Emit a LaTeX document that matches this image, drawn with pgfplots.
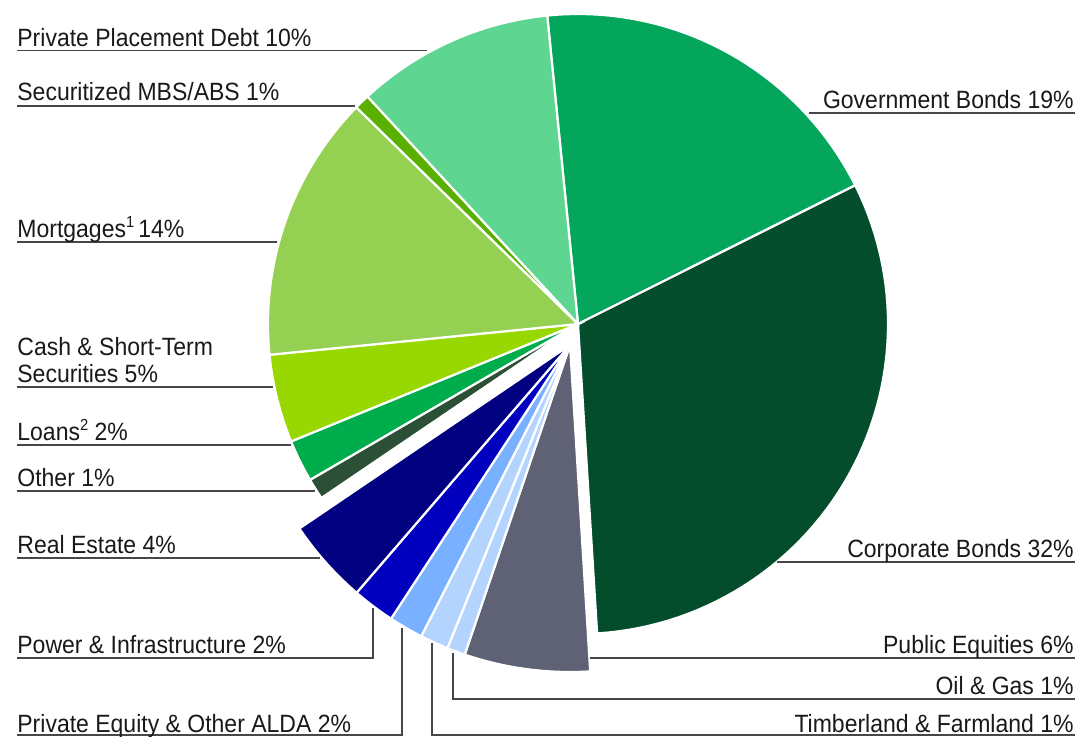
\documentclass[border=0pt]{standalone}
\usepackage{fontspec}
\setmainfont[FakeStretch=0.92]{Liberation Sans}
\usepackage{pgfplots}
\usepackage{pgfplotstable}
\pgfplotsset{compat=1.18}

% slice colours, in drawing order (clockwise from the top)
\definecolor{c0}{HTML}{03A65A}
\definecolor{c1}{HTML}{034D2C}
\definecolor{c2}{HTML}{5F6275}
\definecolor{c3}{HTML}{B3D4FF}
\definecolor{c4}{HTML}{B3D4FF}
\definecolor{c5}{HTML}{79B0FF}
\definecolor{c6}{HTML}{0000BE}
\definecolor{c7}{HTML}{000080}
\definecolor{c8}{HTML}{2B5036}
\definecolor{c9}{HTML}{00AD4D}
\definecolor{c10}{HTML}{99D700}
\definecolor{c11}{HTML}{94D152}
\definecolor{c12}{HTML}{59B000}
\definecolor{c13}{HTML}{5ED691}

% share of each slice (percent), explode = pulled-out group
\pgfplotstableread{
label value explode
GovernmentBonds 19.2 0
CorporateBonds 31.4 0
PublicEquities 6.2 1
OilGas 0.9 1
Timberland 1.4 1
PrivateEquity 1.7 1
Power 2.1 1
RealEstate 4.2 1
Other 1.1 0
Loans 2.2 0
Cash 4.6 0
Mortgages 13.9 0
Securitized 0.8 0
PrivatePlacement 10.3 0
}\piedata

\newcommand{\fnmark}[1]{\raisebox{0.38em}{\fontsize{8pt}{8pt}\selectfont #1}}

\tikzset{
  lab/.style={font=\fontsize{12.5pt}{14pt}\selectfont, inner sep=0pt, text=black!90},
  lead/.style={draw=black!72, line width=0.75pt},
}

\begin{document}
\begin{tikzpicture}
% cumulative angles, centre and radius of every slice
\def\cum{95.7}
\pgfplotsforeachungrouped \i in {0,...,13}{%
  \pgfplotstablegetelem{\i}{value}\of\piedata
  \pgfmathsetmacro\sweep{\pgfplotsretval*3.6}%
  \pgfmathsetmacro\endang{\cum-\sweep}%
  \expandafter\xdef\csname sa\i\endcsname{\cum}%
  \expandafter\xdef\csname ea\i\endcsname{\endang}%
  \pgfplotstablegetelem{\i}{explode}\of\piedata
  \ifnum\pgfplotsretval=1
    \expandafter\xdef\csname cx\i\endcsname{570}%
    \expandafter\xdef\csname cy\i\endcsname{391}%
    \expandafter\xdef\csname r\i\endcsname{327}%
  \else
    \expandafter\xdef\csname cx\i\endcsname{578}%
    \expandafter\xdef\csname cy\i\endcsname{412}%
    \expandafter\xdef\csname r\i\endcsname{310}%
  \fi
  \xdef\cum{\endang}%
}
\begin{axis}[
  width=539.5pt, height=368pt, scale only axis,
  xmin=0, xmax=1079, ymin=0, ymax=736,
  hide axis, clip=false,
]
\pgfplotsinvokeforeach{0,...,13}{%
  \edef\tmp{\noexpand\fill[fill=c#1, draw=white, line width=1.1pt]
    (\csname cx#1\endcsname,\csname cy#1\endcsname) --
    plot[domain=\csname ea#1\endcsname:\csname sa#1\endcsname, samples=60, variable=\noexpand\t]
    ({\csname cx#1\endcsname+\csname r#1\endcsname*cos(\noexpand\t)},
     {\csname cy#1\endcsname+\csname r#1\endcsname*sin(\noexpand\t)}) -- cycle;}%
  \tmp
}

% left labels
\draw[lead] (17,685.3) -- (427,685.3);
\node[lab, anchor=base west] at (17,690) {Private Placement Debt 10\%};
\draw[lead] (17,630) -- (355,630);
\node[lab, anchor=base west] at (17,636) {Securitized MBS/ABS 1\%};
\draw[lead] (17,494) -- (277,494);
\node[lab, anchor=base west] at (17,499) {Mortgages\fnmark{1}\,14\%};
\draw[lead] (17,349) -- (273,349);
\node[lab, anchor=base west] at (17,381) {Cash \& Short-Term};
\node[lab, anchor=base west] at (17,354) {Securities 5\%};
\draw[lead] (17,291) -- (291,291);
\node[lab, anchor=base west] at (17,296) {Loans\fnmark{2} 2\%};
\draw[lead] (17,245) -- (315,245);
\node[lab, anchor=base west] at (17,250) {Other 1\%};
\draw[lead] (17,178) -- (320,178);
\node[lab, anchor=base west] at (17,183) {Real Estate 4\%};
\draw[lead] (17,78) -- (373,78) -- (373,128);
\node[lab, anchor=base west] at (17,83) {Power \& Infrastructure 2\%};
\draw[lead] (17,1) -- (402,1) -- (402,108);
\node[lab, anchor=base west] at (17,3.5) {Private Equity \& Other ALDA 2\%};

% right labels
\draw[lead] (809,623) -- (1075,623);
\node[lab, anchor=base east] at (1074,628) {Government Bonds 19\%};
\draw[lead] (777,174) -- (1075,174);
\node[lab, anchor=base east] at (1074,179) {Corporate Bonds 32\%};
\draw[lead] (590,78) -- (1075,78);
\node[lab, anchor=base east] at (1074,83) {Public Equities 6\%};
\draw[lead] (453,83) -- (453,37) -- (1075,37);
\node[lab, anchor=base east] at (1074,42) {Oil \& Gas 1\%};
\draw[lead] (432,93) -- (432,1) -- (1075,1);
\node[lab, anchor=base east] at (1074,3.5) {Timberland \& Farmland 1\%};
\end{axis}
\pgfresetboundingbox
\path (current axis.south west) rectangle (current axis.north east);
\end{tikzpicture}
\end{document}
